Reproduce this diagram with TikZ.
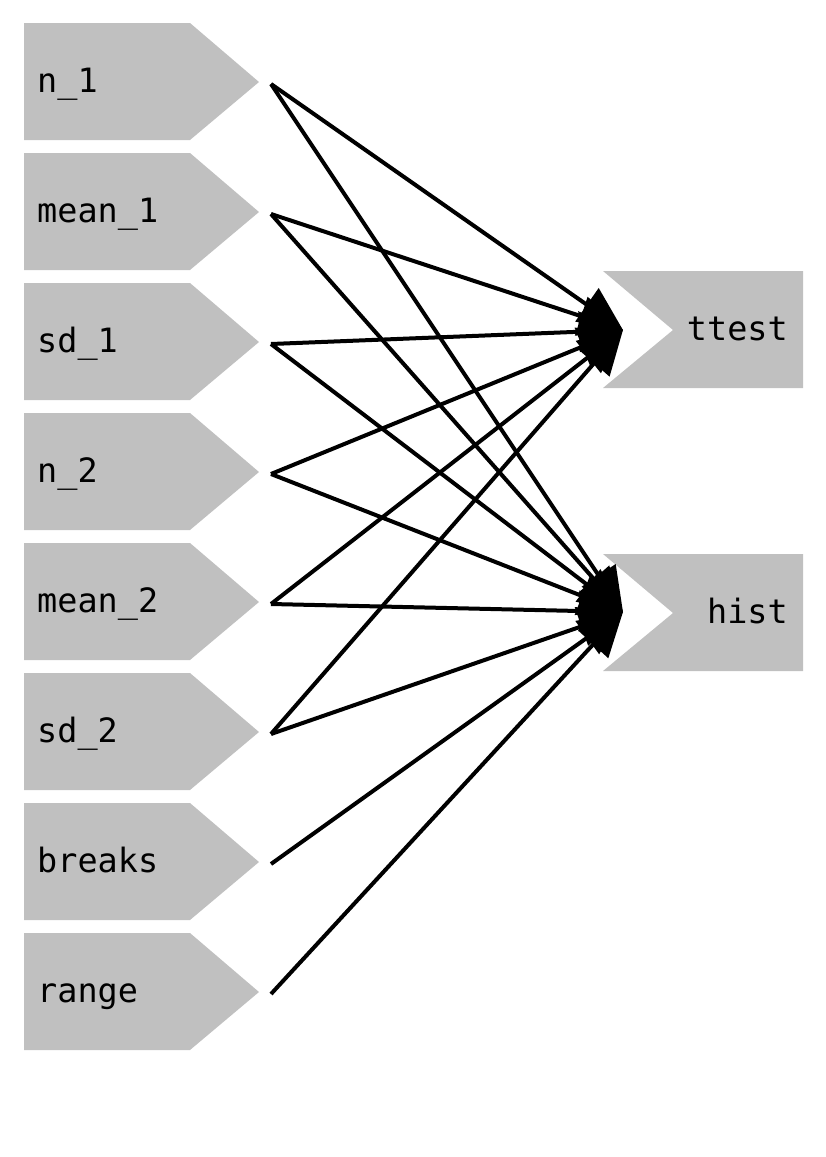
\documentclass[tikz,border=0pt]{standalone}
\usepackage{fontspec}
\newfontfamily\monofont{DejaVu Sans Mono}
\usetikzlibrary{arrows.meta}
\definecolor{boxgray}{HTML}{C0C0C0}
\begin{document}
\begin{tikzpicture}[x=1pt,y=-1pt,
  lbl/.style={font=\monofont\fontsize{33.5}{40}\selectfont, inner sep=0pt},
  edge/.style={draw=black, line width=4pt, -{Triangle[length=44pt,width=40pt]}}]
\useasboundingbox (0,0) rectangle (826,1157);
% input shapes
\foreach \cy/\nm/\tx in {82/n1/n\_1, 212/m1/mean\_1, 342/s1/sd\_1, 472/n2/n\_2, 602/m2/mean\_2, 732/s2/sd\_2, 862/br/breaks, 992/ra/range}{
  \fill[boxgray] (24,\cy-59) -- (190,\cy-59) -- (259,\cy) -- (190,\cy+58) -- (24,\cy+58) -- cycle;
  \node[lbl, anchor=base west] (\nm) at (37,\cy+10) {\tx};
  \coordinate (\nm o) at (271,\cy+2);
}
% output shapes
\foreach \cy/\nm/\tx in {330/tt/ttest, 613/hi/hist}{
  \fill[boxgray] (603,\cy-59) -- (803,\cy-59) -- (803,\cy+58) -- (603,\cy+58) -- (673,\cy) -- cycle;
  \node[lbl, anchor=base east] (\nm) at (788,\cy+10) {\tx};
}
\coordinate (tti) at (623,330);
\coordinate (hii) at (623,612);
\foreach \s in {n1,m1,s1,n2,m2,s2}{
  \draw[edge] (\s o) -- (tti);
}
\foreach \s in {n1,m1,s1,n2,m2,s2,br,ra}{
  \draw[edge] (\s o) -- (hii);
}
\end{tikzpicture}
\end{document}
